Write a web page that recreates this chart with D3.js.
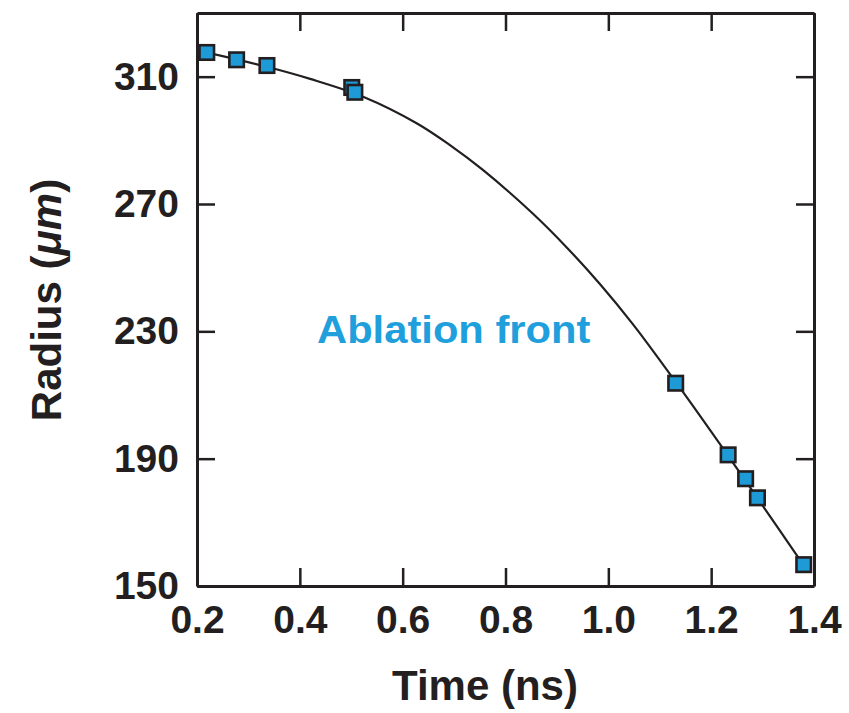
<!DOCTYPE html>
<html>
<head>
<meta charset="utf-8">
<script src="https://cdn.jsdelivr.net/npm/d3@7"></script>
<style>
  html, body { margin: 0; padding: 0; background: #fff; }
  svg { display: block; }
  text { font-family: "Liberation Sans", Arial, Helvetica, sans-serif; font-weight: bold; }
</style>
</head>
<body>
<svg id="chart" width="849" height="713"></svg>
<script>
// ---- data ----
const pointTime   = [0.219, 0.277, 0.336, 0.501, 0.507, 1.131, 1.233, 1.267, 1.290, 1.380];
const pointRadius = [317.6, 315.3, 313.5, 306.6, 305.1, 213.7, 191.2, 183.7, 177.7, 156.7];

const fitTime   = [0.219, 0.278, 0.336, 0.420, 0.523, 0.628, 0.692, 0.756, 0.853, 0.920, 0.984, 1.048, 1.131, 1.233, 1.290, 1.380];
const fitRadius = [317.6, 315.4, 313.1, 309.3, 303.7, 295.3, 288.5, 280.7, 267.0, 256.2, 244.8, 232.2, 214.1, 190.9, 177.6, 156.5];

const xTickValues = [0.2, 0.4, 0.6, 0.8, 1.0, 1.2, 1.4];
const xTickLabels = ["0.2", "0.4", "0.6", "0.8", "1.0", "1.2", "1.4"];
const yTickValues = [150, 190, 230, 270, 310];
const yTickLabels = ["150", "190", "230", "270", "310"];

const xDomain = [0.2, 1.4];
const yDomain = [150, 330];
const seriesLabel = "Ablation front";

// ---- layout ----
const L = 197, R = 814, T = 13, B = 586;
const ink = "#231f20";
const blue = "#1e9bd7";

const svg = d3.select("#chart");
const x = d3.scaleLinear().domain(xDomain).range([L, R]);
const y = d3.scaleLinear().domain(yDomain).range([B, T]);

function styleAxis(g) {
  g.select(".domain").attr("stroke", ink).attr("stroke-width", 3);
  g.selectAll(".tick line").attr("stroke", ink).attr("stroke-width", 2.5);
  g.selectAll(".tick text").attr("fill", ink).attr("font-size", 39)
    .attr("font-family", '"Liberation Sans", Arial, sans-serif').attr("font-weight", "bold");
}

// bottom
svg.append("g").attr("transform", `translate(0,${B})`)
  .call(d3.axisBottom(x).tickValues(xTickValues)
    .tickFormat((d, i) => xTickLabels[i]).tickSizeInner(-18).tickSizeOuter(0).tickPadding(19))
  .call(styleAxis);
// top
svg.append("g").attr("transform", `translate(0,${T})`)
  .call(d3.axisTop(x).tickValues(xTickValues).tickFormat("").tickSizeInner(-18).tickSizeOuter(0))
  .call(styleAxis);
// left
svg.append("g").attr("transform", `translate(${L},0)`)
  .call(d3.axisLeft(y).tickValues(yTickValues)
    .tickFormat((d, i) => yTickLabels[i]).tickSizeInner(-18).tickSizeOuter(0).tickPadding(18))
  .call(styleAxis);
// right
svg.append("g").attr("transform", `translate(${R},0)`)
  .call(d3.axisRight(y).tickValues(yTickValues).tickFormat("").tickSizeInner(-18).tickSizeOuter(0))
  .call(styleAxis);

// fit curve
const fitData = fitTime.map((t, i) => ({ t, r: fitRadius[i] }));
svg.append("path")
  .datum(fitData)
  .attr("fill", "none")
  .attr("stroke", ink)
  .attr("stroke-width", 2.2)
  .attr("d", d3.line().x(d => x(d.t)).y(d => y(d.r)).curve(d3.curveCatmullRom.alpha(0.5)));

// points
const pts = pointTime.map((t, i) => ({ t, r: pointRadius[i] }));
const s = 14.5;
svg.append("g").selectAll("rect")
  .data(pts).join("rect")
  .attr("x", d => x(d.t) - s / 2)
  .attr("y", d => y(d.r) - s / 2)
  .attr("width", s).attr("height", s)
  .attr("fill", blue)
  .attr("stroke", ink)
  .attr("stroke-width", 2.6);

// series label
svg.append("text")
  .attr("transform", "translate(317,343) scale(1.07,1)")
  .attr("font-size", 39)
  .attr("fill", "#1fa0dc")
  .text(seriesLabel);

// axis titles
svg.append("text")
  .attr("x", 485).attr("y", 700)
  .attr("text-anchor", "middle")
  .attr("font-size", 42)
  .attr("fill", ink)
  .text("Time (ns)");

const yt = svg.append("text")
  .attr("transform", "translate(61,300) rotate(-90)")
  .attr("text-anchor", "middle")
  .attr("font-size", 42)
  .attr("fill", ink);
yt.append("tspan").text("Radius (");
yt.append("tspan").attr("font-style", "italic").text("\u03BCm");
yt.append("tspan").text(")");
</script>
</body>
</html>
